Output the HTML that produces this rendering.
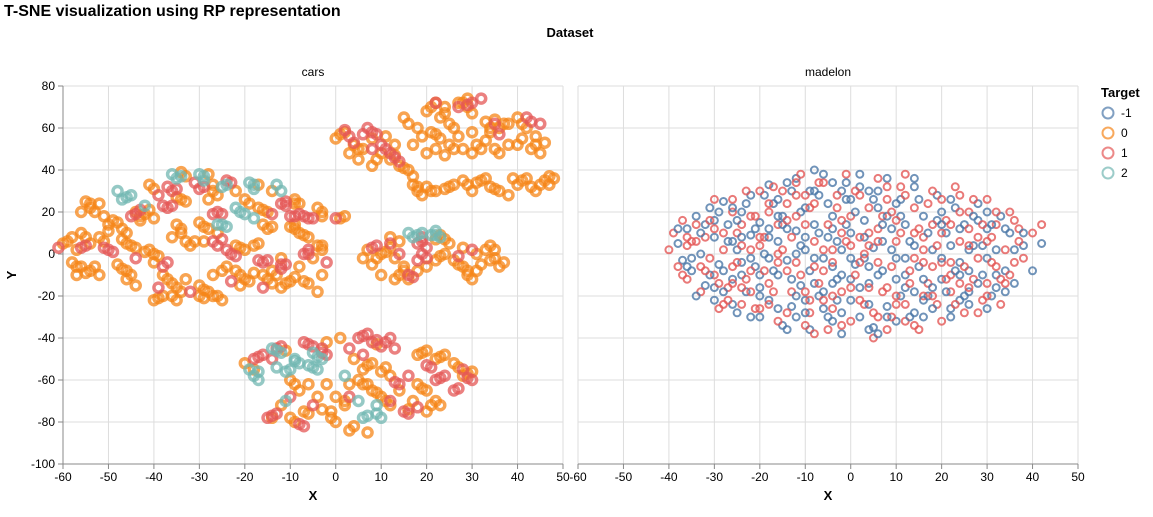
<!DOCTYPE html>
<html><head><meta charset="utf-8"><style>
body{margin:0;background:#fff;font-family:"Liberation Sans",Arial,sans-serif}
svg text{font-family:"Liberation Sans",Arial,sans-serif}
</style></head><body>
<svg id="c" width="1153" height="512" xmlns="http://www.w3.org/2000/svg">
<text x="4" y="16" font-size="16" font-weight="bold">T-SNE visualization using RP representation</text>
<text x="570" y="37" font-size="13" font-weight="bold" text-anchor="middle">Dataset</text>
<text transform="translate(16,275) rotate(-90)" font-size="13" font-weight="bold" text-anchor="middle">Y</text>
<g>
<text x="1101" y="97" font-size="13" font-weight="bold">Target</text>
</g>
</svg>
<script>
const xTicks=[-60,-50,-40,-30,-20,-10,0,10,20,30,40,50];
const yTicks=[80,60,40,20,0,-20,-40,-60,-80,-100];
const facets=["cars","madelon"];
const targets=["-1","0","1","2"];
const colors={"-1":"#4c78a8","0":"#f58518","1":"#e45756","2":"#72b7b2"};
const carsOrange="-55,25 -54,22 -52,24 -56,20 -51,18 -50,14 -48,15 -47,12 -44,20 -43,18 -41,21 -40,17 -35,27 -33,25 -28,26 -26,28 -20,26 -17,22 -15,20 -9,26 -8,24 -4,22 -3,18 1,17 2,18 -34,39 -33,37 -28,38 -27,33 -41,33 -40,31 -22,30 -17,33 -14,30 -60,5 -58,8 -56,10 -57,2 -54,5 -52,8 -50,11 -47,7 -45,4 -44,3 -42,1 -40,0 -39,-1 -35,14 -34,12 -36,8 -30,15 -28,12 -26,10 -33,6 -31,6 -29,6 -22,4 -20,2 -18,4 -16,14 -15,12 -10,13 -9,12 -8,10 -6,8 -4,4 -3,2 -5,-2 -58,-4 -56,-6 -54,-8 -52,-10 -57,-10 -48,-5 -46,-8 -46,-12 -44,-15 -40,-4 -38,-10 -36,-14 -33,-12 -34,-18 -30,-15 -28,-18 -26,-20 -27,-10 -24,-6 -22,-8 -20,-12 -18,-9 -16,-10 -14,-14 -12,-16 -10,-13 -9,-11 -21,-15 -38,-20 -40,-22 -35,-22 -29,-21 -25,-22 -14,-8 -12,-2 -8,-6 -6,-14 -4,-18 -3,-10 0,55 2,58 4,52 6,50 8,55 10,48 12,45 14,42 16,40 17,37 5,45 8,42 3,48 11,56 13,52 15,65 16,62 18,60 20,68 22,72 24,70 23,65 25,62 27,72 29,74 29,70 30,67 21,58 23,55 25,52 27,56 28,50 30,48 32,50 34,58 33,63 36,60 38,62 40,65 42,60 41,55 43,50 45,48 46,53 44,56 38,52 36,48 33,54 30,58 35,64 19,56 17,52 20,48 22,50 24,47 17,33 18,30 20,32 22,30 19,28 24,31 26,33 28,35 30,30 31,34 33,36 34,32 36,30 38,28 40,33 42,36 43,32 44,30 46,35 48,36 47,33 39,36 7,2 6,-2 8,-5 10,0 12,3 13,-2 15,-6 14,-10 16,-12 18,-8 12,8 14,6 22,7 23,9 25,5 26,-3 27,-5 29,-8 30,-12 32,-5 31,0 33,2 35,-2 36,-6 37,-4 34,4 22,-3 20,-6 24,0 10,-10 28,3 29,-10 -20,-52 -18,-55 -10,-60 -8,-65 -12,-72 -14,-78 -9,-80 -7,-75 -4,-68 -3,-74 -1,-75 0,-80 0,-68 3,-62 5,-60 7,-62 8,-65 10,-68 12,-72 6,-55 4,-50 8,-52 10,-56 12,-58 18,-48 20,-46 22,-50 24,-48 26,-52 28,-58 30,-56 18,-62 20,-65 22,-70 20,-75 17,-70 14,-65 2,-72 -2,-62 -6,-62 4,-82 7,-85 9,-43 -11,-46 -2,-42 1,-40 16,-74 23,-72";
const carsOrange2="-54,24 -53,20 -49,16 -46,10 -43,16 -42,19 -34,26 -27,30 -19,24 -16,21 -9,24 -3,20 -59,6 -55,8 -51,6 -46,5 -41,2 -34,10 -29,13 -32,4 -21,3 -17,5 -14,13 -9,14 -7,9 -3,4 -57,-6 -55,-9 -53,-6 -47,-7 -45,-10 -37,-12 -35,-16 -29,-17 -27,-20 -25,-8 -21,-10 -19,-13 -15,-12 -11,-14 -39,-21 -36,-20 -30,-20 -13,-10 -7,-13 1,57 5,50 9,45 13,47 15,41 21,70 24,67 28,72 26,60 22,57 26,50 31,52 34,60 37,62 41,62 44,52 40,52 35,50 18,32 21,30 25,32 29,33 32,35 35,31 41,35 45,33 47,37 9,-2 11,1 15,-8 13,-12 23,-1 28,-6 31,-8 34,-3 35,2 24,7 -9,-62 -10,-78 -6,-76 -1,-78 2,-70 6,-62 9,-66 11,-70 7,-53 11,-54 19,-47 23,-49 27,-54 29,-57 19,-64 21,-72 3,-84";
const carsRed="-37,32 -36,30 -31,34 -30,31 -24,35 -23,34 -45,18 -43,21 -37,22 -36,23 -39,28 -27,19 -26,20 -12,24 -11,25 -8,19 -7,18 -10,18 -5,17 -14,19 0,17 -61,3 -55,4 -51,3 -49,1 -44,-2 -38,-6 -37,-4 -27,6 -25,7 -24,2 -22,-1 -17,-3 -15,-3 -12,-7 -11,-5 -7,0 -6,2 -2,-4 -39,-16 -32,-18 -23,-13 -16,-16 2,59 4,53 7,60 9,57 10,52 12,48 14,44 6,57 8,50 22,72 27,70 32,74 35,62 36,57 42,65 45,62 30,72 8,3 12,5 14,0 16,-10 19,0 20,3 18,5 19,8 20,-2 27,-1 30,2 18,-3 -18,-50 -16,-48 -14,-50 -12,-44 -7,-42 -5,-44 -2,-48 -3,-45 5,-40 7,-38 8,-42 10,-44 12,-40 13,-45 6,-48 3,-45 -15,-78 -13,-76 -10,-68 -7,-82 -5,-72 3,-68 12,-70 14,-62 15,-75 18,-73 20,-53 22,-60 24,-58 28,-55 26,-65 30,-60 16,-58";
const carsRed2="-35,31 -29,32 -44,19 -38,23 -25,19 -11,23 -9,18 -6,17 -56,3 -50,2 -26,4 -23,0 -16,-4 -12,-5 -6,0 3,56 8,58 11,50 13,46 29,71 43,63 9,4 17,-11 19,6 -17,-49 -13,-45 -6,-43 -3,-47 6,-39 9,-41 11,-42 -14,-77 -8,-81 13,-61 16,-76 21,-54 23,-59 27,-64 29,-59";
const carsTeal="-36,38 -35,36 -30,38 -29,35 -25,32 -19,34 -18,31 -13,33 -12,30 -47,26 -45,28 -48,30 -42,23 -22,22 -20,19 -18,17 -26,14 -24,13 16,10 17,8 19,10 22,11 23,8 21,9 -19,-55 -18,-58 -14,-45 -12,-47 -8,-52 -9,-50 -6,-53 -4,-55 -3,-50 -10,-55 -17,-60 -13,-54 -5,-47 2,-58 5,-70 6,-78 9,-72 10,-78 -11,-70";
const carsTeal2="-34,37 -29,37 -24,33 -18,33 -46,27 -21,20 -25,14 18,9 22,9 -17,-56 -13,-46 -9,-51 -5,-54 -11,-56 -4,-49 7,-77 9,-76";
const madBlue="-38,5 -37,-3 -36,12 -35,-8 -34,18 -33,0 -32,-15 -31,22 -30,8 -30,-22 -29,-5 -28,25 -27,14 -26,-12 -25,2 -25,-28 -24,20 -23,-18 -22,9 -22,28 -21,-6 -20,-30 -20,15 -19,0 -18,-22 -18,33 -17,24 -16,-10 -16,6 -15,-34 -15,18 -14,-3 -13,30 -13,-25 -12,11 -12,36 -11,-15 -10,2 -10,22 -9,-36 -9,-8 -8,40 -8,14 -7,-20 -7,28 -6,-2 -5,8 -5,-30 -4,34 -4,18 -3,-12 -2,2 -2,-38 -1,26 0,-22 0,10 1,-5 2,38 2,-30 3,16 4,-14 4,30 5,-35 5,3 6,22 7,-8 8,-25 8,36 9,12 10,-2 10,-32 11,26 12,-16 13,6 14,32 14,-28 15,-6 16,18 17,-20 18,2 19,28 20,-12 21,10 22,-26 23,22 24,-4 25,14 26,-18 27,4 28,24 29,-10 30,12 31,-20 32,2 33,18 34,-8 35,10 36,-14 38,4 40,-8 42,5 -3,-22 -8,-14 -14,12 12,-10 -20,-16 20,20 -26,6 26,-8 -6,-26 6,30 -12,-30 16,-30 -18,-2 -1,14 3,-2 -10,-22 11,18 -24,-4 24,-22 -30,16 30,-2 -2,30 -16,26 14,-18 22,4 -4,-6 7,6 -11,4 0,-12";
const madBlue2="-35,-2 -33,10 -31,-10 -29,20 -28,-18 -27,6 -26,-24 -25,16 -24,-10 -23,24 -22,-2 -21,12 -20,-20 -19,28 -18,8 -17,-8 -16,-26 -15,14 -14,34 -13,-12 -12,0 -11,20 -10,-28 -9,30 -8,-2 -7,10 -6,-18 -5,24 -4,-32 -3,6 -2,-10 -1,34 0,-2 1,20 2,-16 3,8 4,-36 5,26 6,-10 7,14 8,-30 9,2 10,24 11,-20 12,14 13,-30 14,4 15,26 16,-12 17,10 18,-26 19,16 20,-2 21,-18 22,26 23,-8 24,12 25,-20 26,2 27,18 28,-14 29,4 30,-26 31,14 32,-10 34,12 36,2 -36,-6 -32,14 -28,-8 -24,8 -20,-10 -16,18 -12,-20 -8,30 -4,-14 0,26 4,-6 8,18 12,-2 16,-22 20,14 24,-10 28,16 32,-16 -6,38 6,-38 -14,-36 14,36 -22,-30 22,-30 -30,-16 30,20 -2,-28 2,32 -18,12 18,-16 -10,8 10,-12 -26,22 26,-24 -34,-20 34,-18 -38,12 38,10 -4,12 4,-24";
const madRed="-39,10 -38,-6 -36,-12 -36,4 -34,14 -33,-18 -32,8 -31,-2 -30,26 -29,-26 -28,2 -27,-16 -26,20 -25,10 -24,-24 -23,30 -22,-8 -21,18 -20,-26 -19,8 -18,-14 -17,32 -16,-32 -15,2 -14,24 -13,-18 -12,-4 -11,38 -10,14 -9,-28 -8,6 -7,-14 -6,34 -5,-36 -4,2 -3,22 -2,-18 -1,38 0,-32 0,4 1,-10 2,28 3,-24 4,10 5,-40 6,-4 6,36 7,18 8,-16 9,-30 10,6 11,32 12,-24 13,-8 14,22 15,-36 16,8 17,-14 18,30 19,-24 20,-4 21,16 22,-18 23,32 24,6 25,-28 26,20 27,-12 28,8 29,-22 30,26 31,-4 32,14 33,-24 34,2 35,20 36,-4 37,12 38,-2 40,10 42,14 -40,2 -37,16 -4,-26 4,-16 -14,-8 14,-2 -22,2 22,-10 -8,24 8,26 -18,20 18,-6 -26,-6 26,12 -2,10 2,-4 -10,-18 10,16 -30,-10 30,-14 -6,-8 6,12 -16,14 16,-20 -12,28 12,-32 -24,14 24,-14 0,18 -20,4 20,10";
const madRed2="-35,6 -33,-6 -31,16 -29,-14 -28,10 -27,-22 -26,26 -25,-4 -24,4 -23,-12 -22,18 -21,-26 -20,8 -19,-8 -18,24 -17,-18 -16,0 -15,30 -14,-28 -13,8 -12,18 -11,-10 -10,-34 -9,22 -8,-6 -7,34 -6,-22 -5,14 -4,-4 -3,28 -2,-34 -1,6 0,-16 1,30 2,-22 3,0 4,22 5,-28 6,6 7,-18 8,32 9,-6 10,-24 11,10 12,28 13,-14 14,-34 15,12 16,-4 17,24 18,-20 19,4 20,26 21,-12 22,14 23,-24 24,20 25,-6 26,-16 27,26 28,-2 29,14 30,-20 31,8 32,20 33,-12 35,-10 37,6 -37,-10 -34,6 -30,12 -26,-14 -22,-18 -18,-24 -14,16 -10,28 -6,2 -2,16 2,8 6,-30 10,-20 14,10 18,14 22,-4 26,4 30,6 34,-14 -8,-38 8,-36 -12,34 12,38 -20,30 20,-32 -28,-24 28,-28 -32,-8 32,-6 -16,-4 16,2 -4,-20 4,4 -24,-16 24,28 -36,8 36,16 -9,-22 9,20";

const NS="http://www.w3.org/2000/svg";
const svg=document.getElementById('c');
const panels=[{x0:63,x1:563},{x0:578,x1:1078}];
const Y0=86,Y1=464;
function mk(t,a,p){const e=document.createElementNS(NS,t);for(const k in a)e.setAttribute(k,a[k]);(p||svg).appendChild(e);return e;}
function sx(p,v){return p.x0+(v+60)/110*(p.x1-p.x0);}
function sy(v){return Y0+(80-v)/180*(Y1-Y0);}
function parse(s){return s.trim().split(/\s+/).map(t=>t.split(',').map(Number));}

panels.forEach((p,i)=>{
  const g=mk('g',{});
  
  
  xTicks.forEach(t=>{const l=mk('line',{x1:sx(p,t),x2:sx(p,t),y1:Y0,y2:Y1,stroke:'#ddd'},g);
    
    });
  yTicks.forEach(t=>{const l=mk('line',{x1:p.x0,x2:p.x1,y1:sy(t),y2:sy(t),stroke:'#ddd'},g);
    
    });
  const ax=mk('line',{x1:p.x0,x2:p.x1,y1:Y1,y2:Y1,stroke:'#888'},g);
  
  
  xTicks.forEach(t=>{mk('line',{x1:sx(p,t),x2:sx(p,t),y1:Y1,y2:Y1+5,stroke:'#888'},g);
    const tx=mk('text',{x:sx(p,t),y:Y1+17,'font-size':12,'text-anchor':'middle'},g);tx.textContent=t;
    
    });
  const xt=mk('text',{x:(p.x0+p.x1)/2,y:500,'font-size':13,'font-weight':'bold','text-anchor':'middle'},g);xt.textContent='X';
  
  
  const ft=mk('text',{x:(p.x0+p.x1)/2,y:76,'font-size':12,'text-anchor':'middle'},g);ft.textContent=facets[i];
  
  
});
const p0=panels[0];
const ya=mk('line',{x1:p0.x0,x2:p0.x0,y1:Y0,y2:Y1,stroke:'#888'});


yTicks.forEach(t=>{mk('line',{x1:p0.x0-5,x2:p0.x0,y1:sy(t),y2:sy(t),stroke:'#888'});
  const tx=mk('text',{x:p0.x0-8,y:sy(t)+4,'font-size':12,'text-anchor':'end'});tx.textContent=t;
  
  });

function draw(p,data,tgt,r,sw,op){
  const g=mk('g',{});
  
  
  parse(data).forEach(d=>{const c=mk('circle',{cx:sx(p,d[0]),cy:sy(d[1]),r:r,fill:'none',stroke:colors[tgt],'stroke-width':sw,opacity:op},g);
    
    });
}
draw(panels[0],carsOrange,"0",4.5,3.5,0.75);
draw(panels[0],carsOrange2,"0",4.5,3.5,0.75);
draw(panels[0],carsRed,"1",4.5,3.5,0.75);
draw(panels[0],carsRed2,"1",4.5,3.5,0.75);
draw(panels[0],carsTeal,"2",4.5,3.5,0.75);
draw(panels[0],carsTeal2,"2",4.5,3.5,0.75);
draw(panels[1],madBlue,"-1",3.5,2,0.8);
draw(panels[1],madRed,"1",3.5,2,0.8);
draw(panels[1],madBlue2,"-1",3.5,2,0.8);
draw(panels[1],madRed2,"1",3.5,2,0.8);

targets.forEach((t,i)=>{
  const y=113+i*20;
  const c=mk('circle',{cx:1108,cy:y,r:5.5,fill:'none',stroke:colors[t],'stroke-width':2,opacity:0.7});
  
  
  const tx=mk('text',{x:1121,y:y+4,'font-size':12});tx.textContent=t;
  
  
});
</script>
</body></html>
